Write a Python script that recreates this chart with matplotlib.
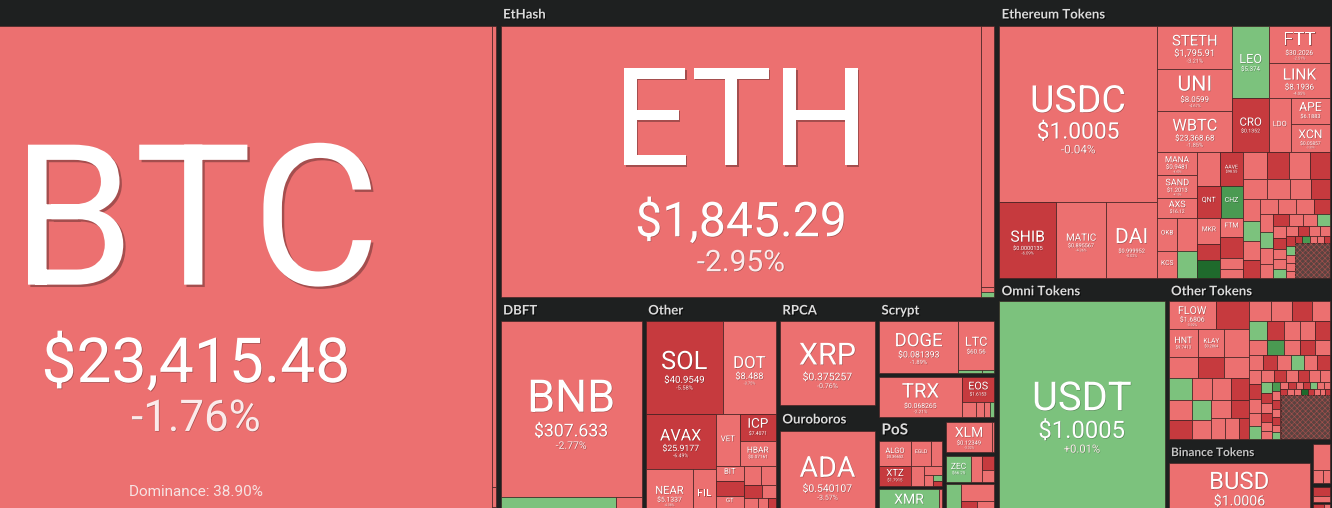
import numpy as np
import matplotlib
matplotlib.use('Agg')
import matplotlib.pyplot as plt
from matplotlib.patches import Rectangle
from matplotlib.textpath import TextPath
from matplotlib.font_manager import FontProperties
import matplotlib.patheffects as pe

nan = float('nan')

# ---------------- data (market cap in bn USD, % change, price) ----------------
sha_sym = ['BTC', 'BCH', 'BSV', 'XEC']
sha_price = ['$23,415.48', '$137.35', '$55.92', '$0.0000450']
sha_chg = [-1.76, -2.85, -2.10, -3.20]
sha_cap = [447.0, 2.80, 0.12, 0.08]

eth_sym = ['ETH', 'ETC']
eth_price = ['$1,845.29', '$39.21']
eth_chg = [-2.95, -3.90, -4.20, 1.40]
eth_cap = [207.4, 5.4, 0.1, 0.1]

dbft_sym = ['BNB', 'NEO', 'ONT']
dbft_price = ['$307.633', '$10.51', '$0.2334']
dbft_chg = [-2.77, 0.85, -3.10]
dbft_cap = [41.45, 4.45, 0.97]

oth_sym = ['SOL', 'DOT', 'AVAX', 'NEAR', 'FIL', 'VET', 'ICP', 'HBAR', 'BIT', '', 'GT']
oth_price = ['$40.9549', '$8.488', '$25.9177', '$5.1337', '$8.1204', '$0.02915',
             '$7.4071', '$0.07161', '$0.5342', '', '$5.02']
oth_chg = [-5.58, -3.75, -6.49, -4.38, -3.92, -4.05, -6.21, -3.62, -3.48, -7.30, -4.10, -2.90,
           -3.5, -4.1, -6.2, -2.8, -3.9, -5.6, -3.3, -7.1, -2.5, 1.8, -4.4, -6.0]
oth_cap = [11.96, 8.24, 6.43, 4.01, 1.96, 2.08, 1.60, 1.53, 0.70, 0.70, 0.57, 0.55,
           0.55, 0.45, 0.40, 0.32, 0.28, 0.22, 0.18, 0.15, 0.12, 0.10, 0.07, 0.05]

rpca_sym, rpca_price, rpca_chg, rpca_cap = ['XRP'], ['$0.375257'], [-0.76], [15.29]
ouro_sym, ouro_price, ouro_chg, ouro_cap = ['ADA'], ['$0.540107'], [-3.57], [16.29]

scr_sym = ['DOGE', 'LTC']
scr_price = ['$0.081393', '$60.56']
scr_chg = [-1.89, -2.47, 1.2, 0.6]
scr_cap = [8.95, 3.85, 0.15, 0.08]

dpos_sym = ['TRX', 'EOS']
dpos_price = ['$0.068265', '$1.6153']
dpos_chg = [-2.21, -5.34, -3.1, -2.4, -4.0, 1.5]
dpos_cap = [5.44, 1.31, 0.35, 0.20, 0.15, 0.09]

pos_sym = ['ALGO', 'XTZ', 'EGLD']
pos_price = ['$0.36652', '$1.7915', '$60.33']
pos_chg = [-3.25, -5.90, -3.70, -4.0, -3.2, -2.8, -4.6, 1.2, -6.1]
pos_cap = [1.89, 1.52, 1.18, 0.65, 0.60, 0.40, 0.25, 0.12, 0.10]

xmr_sym, xmr_price = ['XMR'], ['$160.12']
xmr_chg = [0.95, -3.1, -2.2]
xmr_cap = [3.15, 0.10, 0.06]

xlm_sym, xlm_price = ['XLM'], ['$0.12349']
xlm_chg = [-3.32, -2.5]
xlm_cap = [2.49, 0.11]

zec_sym, zec_price = ['ZEC'], ['$66.25']
zec_chg = [1.35, -3.4, -5.8, -2.9]
zec_cap = [1.16, 0.50, 0.30, 0.27]

misc_chg = [0.9, 9.5, -3.3, -6.2, -2.6, -4.1]
misc_cap = [0.60, 0.28, 0.90, 0.50, 0.30, 0.24]

et_sym = ['USDC', 'SHIB', 'MATIC', 'DAI', 'STETH', 'UNI', 'WBTC', 'LEO', 'CRO', 'FTT', 'LINK',
          'LDO', 'APE', 'XCN', 'MANA', 'SAND', 'AXS', 'OKB', 'KCS', 'TUSD', 'PAXG', 'THETA',
          'AAVE', 'QNT', 'CHZ', 'MKR', '', '', 'FTM']
et_price = ['$1.0005', '$0.0000135', '$0.895567', '$0.999952', '$1,795.91', '$8.0599',
            '$23,368.68', '$5.374', '$0.1352', '$30.2026', '$8.1936', '$1.9871', '$6.1883',
            '$0.05857', '$0.9481', '$1.2013', '$16.12', '$16.05', '$9.8210', '$1.0002',
            '$1,786.10', '$1.4221', '$98.55', '$108.22', '$0.1421', '$1,052.61', '', '',
            '$0.3482']
et_chg = [-0.04, -6.09, -4.36, -0.02, -3.21, -4.67, -1.85, 1.24, -5.43, -2.51, -4.05,
          -3.10, -4.80, -3.30, -4.40, -4.10, -4.60, -2.10, -1.60, -0.10, 0.50, -3.50,
          -6.10, -6.40, 4.10, -3.90, -6.20, 9.10, -4.50, -5.70, -3.20, -2.80,
          -3.1, -5.8, -2.4, -6.3, -3.5, -2.9, -4.1, -5.5, -2.2, 1.2,
          -3.3, -6.8, -1.9, -4.4, -3.0, -5.2, -2.7, 2.1, -3.8, -4.9,
          -6.1, -2.5, -3.6, 0.8, -4.2, -5.9, -2.8, -3.1, 1.5, -4.6,
          -5.4, -2.3, -3.9, -6.5, 0.4, -2.6, -4.8, -3.2, -5.1, 3.5,
          -2.9, -4.3, -6.2, nan]
et_cap = [44.61, 6.95, 6.09, 6.22, 5.20, 5.08, 4.96, 4.18, 3.14, 3.64, 3.45,
          1.92, 1.63, 1.76, 1.50, 1.43, 1.30, 1.07, 0.88, 1.07, 0.88, 1.24,
          1.18, 1.20, 1.14, 0.98, 0.60, 0.66, 0.70, 0.72, 0.40, 0.33,
          1.05, 0.95, 0.9, 0.85, 0.8, 0.72, 0.68, 0.62, 0.6, 0.55,
          0.52, 0.5, 0.46, 0.44, 0.42, 0.4, 0.38, 0.36, 0.34, 0.32,
          0.3, 0.28, 0.26, 0.25, 0.24, 0.22, 0.21, 0.2, 0.19, 0.18,
          0.17, 0.16, 0.15, 0.14, 0.13, 0.12, 0.11, 0.1, 0.09, 0.09,
          0.08, 0.08, 0.07, 2.0]

omni_sym, omni_price, omni_chg, omni_cap = ['USDT'], ['$1.0005'], [0.01], [58.8]

ot_sym = ['FLOW', '', 'HNT', 'KLAY']
ot_price = ['$1.6806', '', '$9.7413', '$0.2864']
ot_chg = [-3.92, -6.31, -4.12, -3.35, -2.84, -4.61, -5.93, -3.52, 1.44, -2.71,
          -6.62, -3.08, -4.43, -5.21, 2.25, -3.81, -2.93, -6.04, -4.22, -3.47, -5.53,
          -4.4, -2.9, -6.1, -3.6, 1.9, -5.2, -3.3, -4.8, -7.2, -2.6,
          3.8, -3.9, -5.7, -4.1, -2.2, -6.6, -3.4, 0.7, -4.9, -5.3,
          -3.0, -6.9, -2.8, -4.5, 2.6, -3.7, -5.8, -4.0, -6.3, -2.4,
          -3.2, 1.1, -5.1, -4.7, -7.5, -3.6, -2.9, 5.2, -4.3, -6.0,
          -3.8, -5.5, -2.7, 0.9, -4.6, -6.8, -3.1, -5.0, 1.6, -4.2,
          -3.5, -6.4, -2.5, -4.9, 9.3, -5.9, -3.3, -4.4, -7.0, -2.8, nan]
ot_cap = [2.27, 1.6, 1.4, 1.25, 1.15, 1.05, 0.95, 0.9, 0.87, 0.82,
          0.78, 0.74, 0.71, 0.68, 0.65, 0.62, 0.6, 0.56, 0.52, 0.5, 0.36,
          0.75, 0.7, 0.66, 0.62, 0.58, 0.55, 0.52, 0.5, 0.48, 0.46,
          0.44, 0.42, 0.4, 0.38, 0.37, 0.36, 0.35, 0.34, 0.33, 0.32,
          0.31, 0.3, 0.29, 0.28, 0.27, 0.26, 0.25, 0.24, 0.23, 0.22,
          0.21, 0.2, 0.19, 0.18, 0.17, 0.16, 0.15, 0.14, 0.13, 0.12,
          0.115, 0.11, 0.105, 0.1, 0.1, 0.095, 0.09, 0.09, 0.085, 0.08,
          0.08, 0.075, 0.07, 0.07, 0.065, 0.06, 0.06, 0.055, 0.05, 0.05, 3.78]

bin_sym, bin_price, bin_chg, bin_cap = ['BUSD'], ['$1.0006'], [-0.02], [17.14]

s1_chg, s1_cap = [-3.0, -4.2, -2.5], [0.75, 0.22, 0.15]
s2_chg, s2_cap = [-6.0, -3.5], [0.30, 0.20]
s3_chg, s3_cap = [-6.4, -2.9], [0.30, 0.15]

btc_dominance = 'Dominance: 38.90%'

# ---------------- style ----------------
BG = '#1e2020'
VIEW_W, VIEW_H = 1332, 508
TILE_FONT = FontProperties(family='Roboto')
HEAD_FONT = 'Lato'
plt.rcParams['hatch.linewidth'] = 0.45


def tile_color(c):
    if np.isnan(c):
        return '#5a4340'
    if c <= -5:
        return '#c63a3e'
    if c < 0:
        return '#ec7070'
    if c < 3:
        return '#7cc27d'
    if c < 8:
        return '#4a9a52'
    return '#1f6a2c'


_tw = {}


def text_w(s):
    if s not in _tw:
        _tw[s] = TextPath((0, 0), s, size=100, prop=TILE_FONT).get_extents().width
    return _tw[s]


CAP = TextPath((0, 0), 'H', size=100, prop=TILE_FONT).get_extents().height / 100


def shadow(size):
    o = max(0.4, size * 0.012)
    return [pe.withSimplePatchShadow(offset=(o, -o), shadow_rgbFace='#000000', alpha=0.3)]


fig = plt.figure(figsize=(13.32, 5.08), dpi=100)
fig.patch.set_facecolor(BG)
ax = fig.add_axes([0, 0, 1, 1])
ax.set_xlim(0, VIEW_W)
ax.set_ylim(VIEW_H, 0)
ax.axis('off')
ax.set_facecolor(BG)

rects = {}


def put_text(x, y, s, size_px, color='white'):
    # lines that would only be partly inside the visible window are left out
    if y > VIEW_H - 1:
        return False
    pt = size_px * 0.72
    ax.text(x, y, s, fontsize=pt, family='Roboto', color=color, ha='center',
            va='baseline', clip_on=True, path_effects=shadow(pt))
    return True


def put_label(x, y, w, h, sym, price, chg):
    ws = 0.58 * w
    es = 100 * ws / text_w(sym)
    pct = f'{chg:+.2f}%'
    ep = ec = 0.0
    if price:
        ep = min(100 * 0.88 * ws / text_w(price), 0.75 * es)
        wp = ep * text_w(price) / 100
        ec = min(100 * 0.42 * wp / text_w(pct), 0.8 * ep)
    hs, hp, hc = es * CAP, ep * CAP, ec * CAP
    g1 = 0.38 * hs if price else 0
    g2 = 0.4 * hp
    block = hs + g1 + hp + g2 + hc
    k = min(1.0, 0.75 * h / block)
    if hs * k < 3.5:
        return
    cx = x + w / 2
    base = y + 0.53 * h - block * k / 2 + hs * k
    if not put_text(cx, base, sym, es * k):
        return
    if price and hp * k >= 2.5:
        base += (g1 + hp) * k
        put_text(cx, base, price, ep * k)
        if hc * k >= 2:
            base += (g2 + hc) * k
            put_text(cx, base, pct, ec * k, color='#fbeaea')


def draw_tile(g, i, x, y, w, h):
    c = g['chg'][i]
    ax.add_patch(Rectangle((x, y), w, h, facecolor=tile_color(c),
                           edgecolor=(0.22, 0.12, 0.12, 0.7), lw=0.6))
    if np.isnan(c):
        # the long tail of tiny coins reads as a speckled patch
        ax.add_patch(Rectangle((x, y), w, h, facecolor='none', edgecolor='#a3504d',
                               hatch='xxxxxx', lw=0))
    sym = g['sym'][i] if i < len(g['sym']) else ''
    if sym:
        price = g['price'][i] if i < len(g['price']) else ''
        rects[sym] = (x, y, w, h)
        put_label(x, y, w, h, sym, price, c)


def worst(row, short):
    s = sum(row)
    return max(max(short * short * r / (s * s), s * s / (short * short * r)) for r in row)


def squarify(vals, x, y, w, h):
    tot = sum(vals)
    areas = [v * w * h / tot for v in vals]
    out = []
    i = 0
    while i < len(areas):
        short = min(w, h)
        row = [areas[i]]
        j = i + 1
        while j < len(areas) and worst(row + [areas[j]], short) <= worst(row, short):
            row.append(areas[j])
            j += 1
        s = sum(row)
        if w >= h:
            cw = s / h
            yy = y
            for a in row:
                out.append((x, yy, cw, a / cw))
                yy += a / cw
            x += cw
            w -= cw
        else:
            rh = s / w
            xx = x
            for a in row:
                out.append((xx, y, a / rh, rh))
                xx += a / rh
            y += rh
            h -= rh
        i = j
    return out


def node_value(node, caps):
    if isinstance(node, int):
        return caps[node]
    return sum(node_value(c, caps) for c in node[1])


def lay(node, g, x, y, w, h):
    caps = g['cap']
    if isinstance(node, int):
        draw_tile(g, node, x, y, w, h)
        return
    kind, kids = node
    if kind == 'sq':
        for i, r in zip(kids, squarify([caps[i] for i in kids], x, y, w, h)):
            draw_tile(g, i, *r)
        return
    tot = sum(node_value(k, caps) for k in kids)
    pos = x if kind == 'x' else y
    for k in kids:
        f = node_value(k, caps) / tot
        if kind == 'x':
            lay(k, g, pos, y, w * f, h)
            pos += w * f
        else:
            lay(k, g, x, pos, w, h * f)
            pos += h * f


def group(label, hdr, sym, price, chg, cap, tree, fs=9.5, color='#dcdcdc'):
    return dict(label=label, hdr=hdr, sym=sym, price=price, chg=chg, cap=cap,
                tree=tree, fs=fs, color=color)


def outer_value(item):
    if isinstance(item, dict):
        return sum(item['cap'])
    return sum(outer_value(c) for c in item[2])


def lay_outer(item, x, y, w, h):
    if isinstance(item, dict):
        hdr = item['hdr']
        if item['label'] and hdr >= 12 and x >= 0:
            ax.text(x + 2.5, y + hdr / 2 + 1.5, item['label'], family=HEAD_FONT,
                    fontweight='bold', fontsize=item['fs'], color=item['color'],
                    ha='left', va='center', clip_on=True,
                    path_effects=[pe.withSimplePatchShadow(offset=(0.8, -0.8),
                                                           shadow_rgbFace='#000000', alpha=0.6)])
        lay(item['tree'], item, x, y + hdr, w, h - hdr)
        return
    kind, gap, kids = item
    tot = sum(outer_value(k) for k in kids)
    avail = (w if kind == 'x' else h) - gap * (len(kids) - 1)
    pos = x if kind == 'x' else y
    for k in kids:
        size = avail * outer_value(k) / tot
        if kind == 'x':
            lay_outer(k, pos, y, size, h)
        else:
            lay_outer(k, x, pos, w, size)
        pos += size + gap


G_sha = group('SHA-256', 26, sha_sym, sha_price, sha_chg, sha_cap, ('x', [0, ('y', [1, 2, 3])]))
G_eth = group('EtHash', 26, eth_sym, eth_price, eth_chg, eth_cap, ('x', [0, ('y', [1, 2, 3])]))
G_dbft = group('DBFT', 24, dbft_sym, dbft_price, dbft_chg, dbft_cap, ('y', [0, ('x', [1, 2])]))
G_oth = group('Other', 24, oth_sym, oth_price, oth_chg, oth_cap,
              ('y', [('x', [0, 1]),
                     ('x', [('y', [2, ('x', [3, 4])]),
                            ('y', [('x', [5, ('y', [6, 7])]),
                                   ('x', [('y', [8, 9, 10, 11]), ('sq', list(range(12, 24)))])])])]))
G_rpca = group('RPCA', 24, rpca_sym, rpca_price, rpca_chg, rpca_cap, 0)
G_ouro = group('Ouroboros', 26, ouro_sym, ouro_price, ouro_chg, ouro_cap, 0)
G_scr = group('Scrypt', 24, scr_sym, scr_price, scr_chg, scr_cap, ('x', [0, ('y', [1, ('x', [2, 3])])]))
G_dpos = group('DPoS', 4, dpos_sym, dpos_price, dpos_chg, dpos_cap,
               ('x', [0, ('y', [1, ('x', [2, 3, 4, 5])])]))
G_pos = group('PoS', 24, pos_sym, pos_price, pos_chg, pos_cap,
              ('x', [('y', [0, 1]), ('y', [('x', [2, 3]), ('sq', [4, 5, 6, 7, 8])])]), fs=11)
G_xmr = group('', 3, xmr_sym, xmr_price, xmr_chg, xmr_cap, ('x', [0, ('y', [1, 2])]))
G_xlm = group('', 5, xlm_sym, xlm_price, xlm_chg, xlm_cap, ('x', [0, 1]))
G_zec = group('', 4, zec_sym, zec_price, zec_chg, zec_cap, ('x', [0, 1, ('y', [2, 3])]))
G_misc = group('', 2, [], [], misc_chg, misc_cap, ('x', [('y', [0, 1]), ('sq', [2, 3, 4, 5])]))

G_et = group('Ethereum Tokens', 26, et_sym, et_price, et_chg, et_cap,
             ('x', [('y', [0, ('x', [1, 2, 3])]),
                    ('y', [('x', [('y', [4, 5, 6]), ('y', [7, 8]),
                                  ('y', [('y', [9, 10]), ('x', [11, ('y', [12, 13])])])]),
                           ('x', [('y', [14, 15, 16, ('x', [('y', [17, 18]), ('y', [19, 20])])]),
                                  ('x', [('y', [('x', [21, 22]), ('x', [23, 24]),
                                                ('x', [('y', [25, 26, 27]), ('y', [28, 29, 30, 31])])]),
                                         ('sq', list(range(32, 76)))])])])]))
G_omni = group('Omni Tokens', 23, omni_sym, omni_price, omni_chg, omni_cap, 0)
G_ot = group('Other Tokens', 23, ot_sym, ot_price, ot_chg, ot_cap,
             ('x', [('sq', list(range(0, 21))), ('sq', list(range(21, 82)))]))
G_bin = group('Binance Tokens', 24, bin_sym, bin_price, bin_chg, bin_cap, 0, fs=8.5, color='#c4c4c4')
G_s1 = group('', 5, [], [], s1_chg, s1_cap, ('y', [0, ('x', [1, 2])]))
G_s2 = group('', 4, [], [], s2_chg, s2_cap, ('y', [0, 1]))
G_s3 = group('', 2, [], [], s3_chg, s3_cap, ('x', [0, 1]))

col_b = ('y', 0, [G_eth,
                  ('x', 4, [G_dbft, G_oth, ('y', 0, [G_rpca, G_ouro]),
                            ('y', 0, [G_scr, G_dpos,
                                      ('x', 4, [('y', 0, [G_pos, G_xmr]),
                                                ('y', 0, [G_xlm, G_zec, G_misc])])])])])
col_c = ('y', 0, [G_et,
                  ('x', 4, [G_omni,
                            ('y', 0, [G_ot, ('x', 3, [G_bin, ('y', 0, [G_s1, G_s2, G_s3])])])])])
root = ('x', 5, [G_sha, col_b, col_c])

# the map is larger than the visible window; it is cropped by the axes limits
lay_outer(root, -100, 0, 1430, 520)

bx, by, bw, bh = rects['BTC']
ax.text(bx + bw / 2, by + bh - 24, btc_dominance, family='Roboto', fontsize=11,
        color='#f6e2e2', ha='center', va='baseline', clip_on=True)

fig.savefig('out.png', dpi=100, facecolor=BG)
